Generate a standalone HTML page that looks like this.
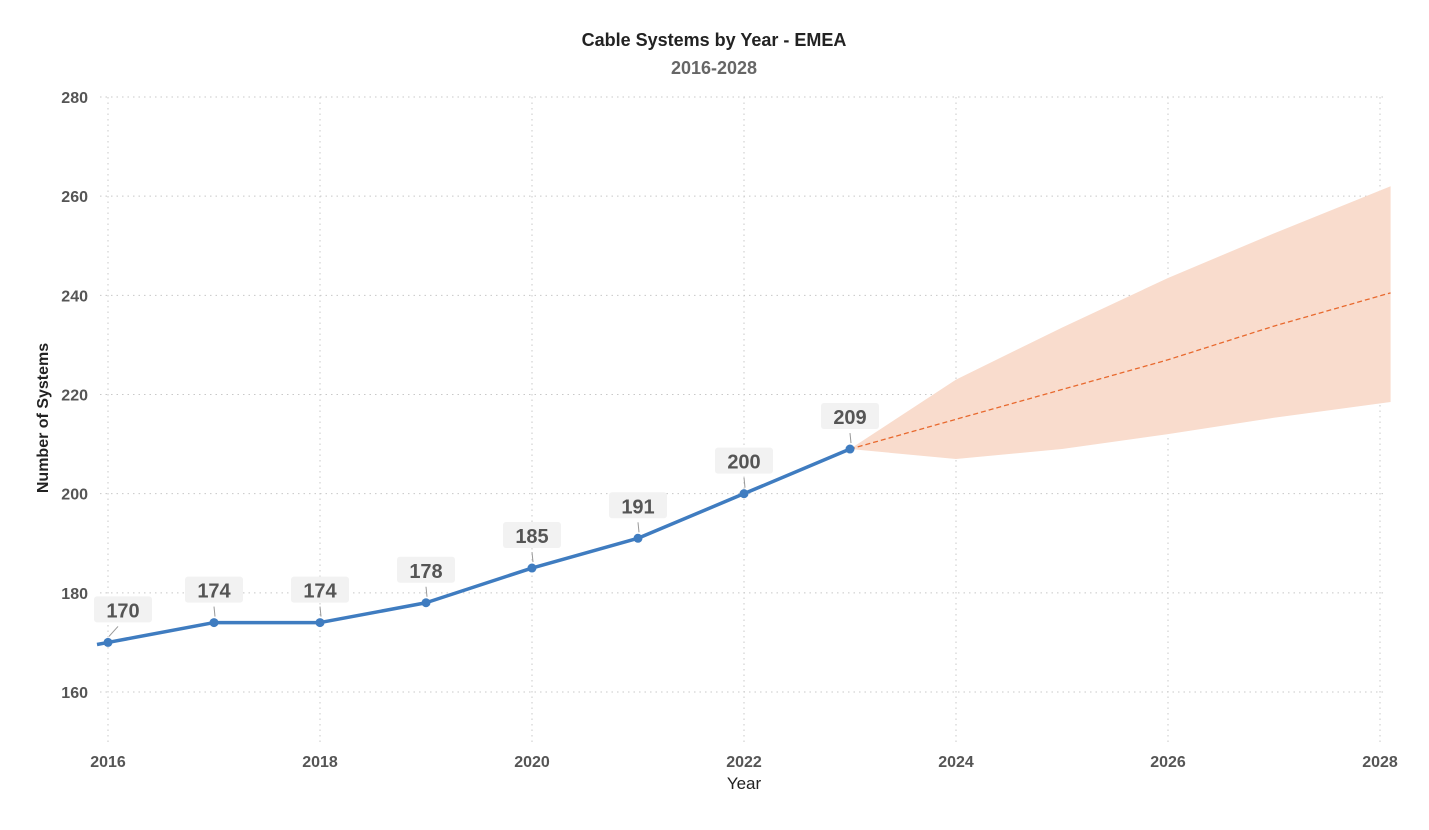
<!DOCTYPE html>
<html><head><meta charset="utf-8">
<style>
body{margin:0;background:#fff;width:1429px;height:825px;overflow:hidden;font-family:"Liberation Sans",sans-serif}
svg text{font-family:"Liberation Sans",sans-serif;font-weight:bold}
</style></head><body>
<svg id="chart" width="1429" height="825" xmlns="http://www.w3.org/2000/svg">
<text x="714" y="46" text-anchor="middle" font-size="18" fill="#222">Cable Systems by Year - EMEA</text>
<text x="714" y="74" text-anchor="middle" font-size="18" fill="#666">2016-2028</text>
<text transform="translate(48,418) rotate(-90)" text-anchor="middle" font-size="16" fill="#222">Number of Systems</text>
<text x="744" y="789" text-anchor="middle" font-size="17" fill="#222" style="font-weight:normal">Year</text>
<g id="grid"></g><g id="band"></g><g id="marks"></g><g id="labels"></g>
</svg>
<script>
const years=[2016,2017,2018,2019,2020,2021,2022,2023];
const values=[170,174,174,178,185,191,200,209];
const fcYears=[2023,2024,2025,2026,2027,2028.1];
const fcMid=[209,215,221,227,233.8,240.5];
const fcUpper=[209,223,233.5,243.5,252.5,262];
const fcLower=[209,207,209,212,215.3,218.5];
const yTicks=[160,180,200,220,240,260,280];
const xTicks=[2016,2018,2020,2022,2024,2026,2028];
const NS="http://www.w3.org/2000/svg";
const x=v=>108+(v-2016)*106;
const y=v=>692-(v-160)*(595/120);
function mk(tag,attrs,parent){const e=document.createElementNS(NS,tag);for(const k in attrs)e.setAttribute(k,attrs[k]);document.getElementById(parent).appendChild(e);return e;}
yTicks.forEach(t=>{
 const l=mk('line',{x1:100,x2:1385,y1:y(t),y2:y(t),stroke:'#c8c8c8','stroke-dasharray':'1.5,4'},'grid');
 
 
 const tx=mk('text',{x:88,y:y(t)+6,'text-anchor':'end','font-size':16,fill:'#555'},'grid');tx.textContent=t;
 
 
});
xTicks.forEach(t=>{
 const l=mk('line',{x1:x(t),x2:x(t),y1:97,y2:745,stroke:'#c8c8c8','stroke-dasharray':'1.5,4'},'grid');
 
 
 const tx=mk('text',{x:x(t),y:767,'text-anchor':'middle','font-size':16,fill:'#555'},'grid');tx.textContent=t;
 
 
});
let bp=fcYears.map((v,i)=>x(v)+','+y(fcUpper[i]));
bp=bp.concat(fcYears.map((v,i)=>x(v)+','+y(fcLower[i])).reverse());
const band=mk('polygon',{points:bp.join(' '),fill:'#f9dccd'},'band');


const fl=mk('polyline',{points:fcYears.map((v,i)=>x(v)+','+y(fcMid[i])).join(' '),fill:'none',stroke:'#e8692e','stroke-width':1.3,'stroke-dasharray':'5,3'},'marks');


const pts=[[97,y(values[0]-(values[1]-values[0])*11/106)]].concat(years.map((v,i)=>[x(v),y(values[i])]));
const ln=mk('polyline',{points:pts.map(p=>p.join(',')).join(' '),fill:'none',stroke:'#3f7cc0','stroke-width':3.5,'stroke-linejoin':'round'},'marks');


years.forEach((v,i)=>{
 const px=x(v),py=y(values[i]);
 const c=mk('circle',{cx:px,cy:py,r:4.5,fill:'#3f7cc0'},'marks');
 
 
 const off=i===0?15:0;
 const cx=px+off;
 const lk=mk('line',{x1:i===0?px+10:px,y1:py-16,x2:px+1,y2:py-6,stroke:'#999','stroke-width':1},'labels');
 
 
 const r=mk('rect',{x:cx-29,y:py-46,width:58,height:26,rx:3,fill:'#f2f2f2'},'labels');
 
 
 const t=mk('text',{x:cx,y:py-25,'text-anchor':'middle','font-size':20,fill:'#555'},'labels');t.textContent=values[i];
 
 
});
</script>
</body></html>
